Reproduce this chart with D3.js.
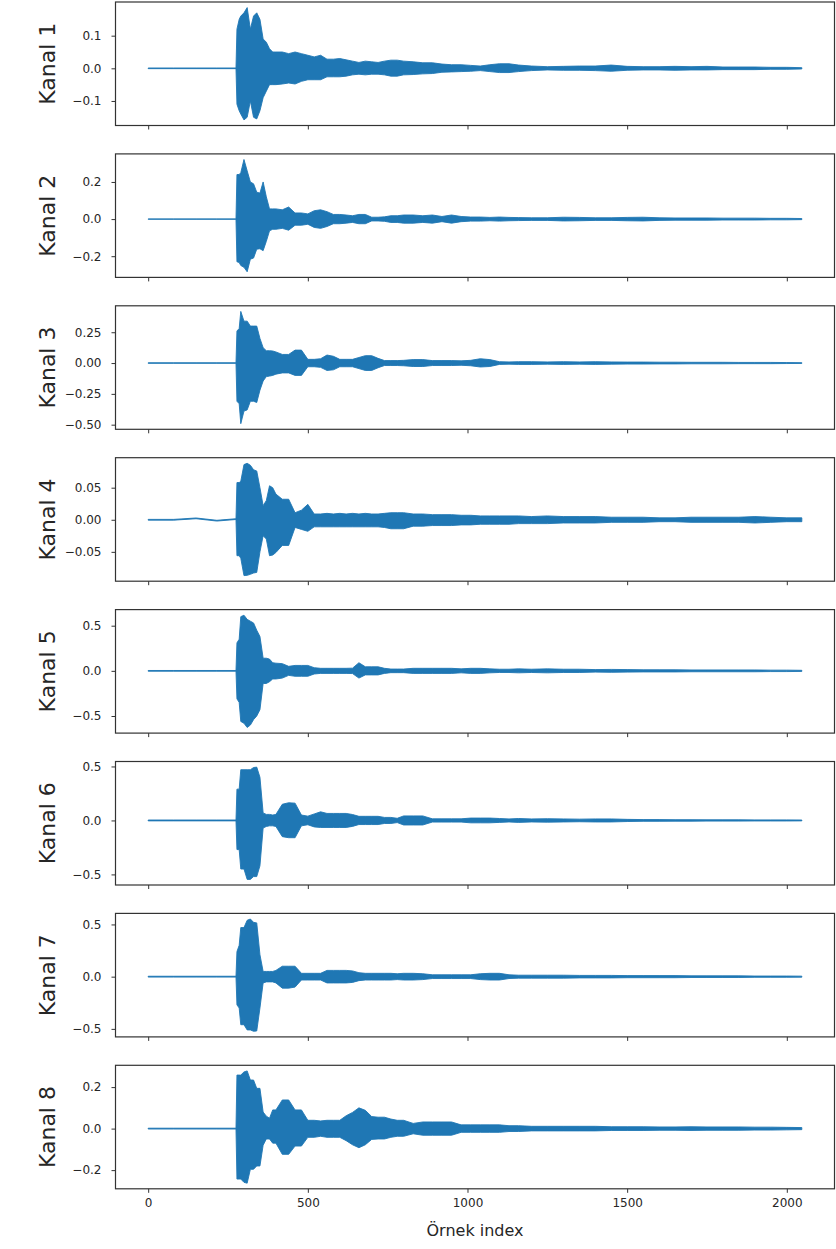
<!DOCTYPE html>
<html>
<head>
<meta charset="utf-8">
<script src="https://cdn.jsdelivr.net/npm/d3@7"></script>
<style>
  html, body { margin: 0; padding: 0; background: #fff; }
  svg { display: block; }
  text { font-family: "DejaVu Sans", sans-serif; fill: #262626; }
</style>
</head>
<body>
<svg id="chart" width="836" height="1249"></svg>
<script>
// ---- Data (envelope of each channel) ----
const sampleIdx = [0, 80, 150, 215, 275, 278, 285, 290, 300, 310, 320, 330, 340, 350, 360, 370, 380, 390, 400,
  420, 440, 460, 480, 500, 520, 540, 560, 580, 600, 620, 640, 660, 680, 700, 720, 740, 760, 780, 800,
  830, 860, 890, 920, 950, 980, 1010, 1040, 1070, 1100, 1130, 1160,
  1200, 1250, 1300, 1350, 1400, 1450, 1500, 1550, 1600, 1650, 1700, 1750, 1800, 1850, 1900, 1950, 2000, 2047];

const channelNames = ["Kanal 1", "Kanal 2", "Kanal 3", "Kanal 4", "Kanal 5", "Kanal 6", "Kanal 7", "Kanal 8"];

const kanal1Hi = [.001,.001,.001,.001,.001, .12,.15,.16,.17,.186,.12,.16,.17,.15,.09,.08,.06,.05,.05,
  .05,.045,.05,.045,.04,.035,.04,.028,.028,.03,.026,.022,.018,.022,.02,.018,.022,.025,.025,.022,
  .02,.017,.017,.013,.011,.011,.009,.007,.011,.014,.014,.01,
  .007,.005,.006,.007,.007,.01,.006,.005,.005,.006,.005,.006,.004,.004,.004,.003,.003,.002];
const kanal1Lo = [-.001,-.001,-.001,-.001,-.001, -.11,-.13,-.14,-.158,-.15,-.10,-.15,-.155,-.13,-.09,-.07,-.05,-.05,-.05,
  -.048,-.045,-.048,-.04,-.035,-.035,-.035,-.026,-.026,-.026,-.024,-.02,-.018,-.02,-.018,-.018,-.02,-.024,-.024,-.02,
  -.019,-.017,-.016,-.012,-.011,-.01,-.009,-.007,-.01,-.013,-.013,-.01,
  -.007,-.005,-.006,-.006,-.007,-.009,-.006,-.005,-.005,-.006,-.005,-.005,-.004,-.004,-.004,-.003,-.003,-.002];

const kanal2Hi = [.001,.001,.001,.001,.001, .24,.24,.25,.321,.26,.20,.19,.145,.14,.20,.12,.055,.055,.055,
  .05,.065,.033,.033,.028,.045,.05,.04,.025,.025,.022,.018,.025,.025,.01,.01,.012,.018,.018,.022,
  .022,.018,.022,.014,.022,.014,.011,.011,.009,.011,.009,.008,
  .007,.007,.01,.009,.007,.007,.009,.01,.007,.006,.006,.006,.005,.005,.005,.004,.004,.003];
const kanal2Lo = [-.001,-.001,-.001,-.001,-.001, -.23,-.234,-.25,-.26,-.284,-.216,-.21,-.162,-.16,-.17,-.12,-.063,-.055,-.055,
  -.05,-.06,-.033,-.033,-.028,-.045,-.05,-.04,-.025,-.025,-.022,-.018,-.025,-.025,-.01,-.01,-.012,-.018,-.018,-.022,
  -.022,-.018,-.022,-.014,-.022,-.014,-.011,-.011,-.009,-.011,-.009,-.008,
  -.007,-.007,-.01,-.009,-.007,-.007,-.009,-.01,-.007,-.006,-.006,-.006,-.005,-.005,-.005,-.004,-.004,-.003];

const kanal3Hi = [.002,.002,.002,.002,.002, .26,.28,.419,.34,.34,.30,.30,.30,.20,.125,.10,.10,.098,.09,
  .07,.07,.105,.105,.03,.03,.035,.065,.055,.03,.03,.03,.045,.06,.06,.038,.02,.02,.02,.022,
  .028,.028,.02,.02,.02,.018,.022,.035,.028,.011,.009,.011,
  .011,.009,.011,.009,.011,.009,.008,.008,.007,.007,.006,.006,.006,.005,.005,.005,.004,.003];
const kanal3Lo = [-.002,-.002,-.002,-.002,-.002, -.31,-.33,-.492,-.39,-.38,-.31,-.31,-.32,-.22,-.146,-.11,-.106,-.10,-.09,
  -.08,-.08,-.1,-.1,-.03,-.03,-.035,-.06,-.055,-.03,-.03,-.03,-.045,-.06,-.06,-.038,-.02,-.02,-.02,-.022,
  -.028,-.028,-.02,-.02,-.02,-.018,-.022,-.032,-.028,-.011,-.009,-.011,
  -.011,-.009,-.011,-.009,-.011,-.009,-.008,-.008,-.007,-.007,-.006,-.006,-.006,-.005,-.005,-.005,-.004,-.003];

const kanal4Hi = [.0006,.0006,.0028,-.0008,.0016, .058,.058,.06,.086,.088,.085,.078,.076,.05,.022,.03,.053,.05,.04,
  .032,.032,.011,.015,.024,.009,.009,.01,.009,.01,.009,.01,.009,.01,.009,.009,.01,.011,.011,.011,
  .009,.009,.008,.008,.008,.007,.007,.006,.006,.006,.006,.006,
  .005,.006,.005,.005,.005,.004,.004,.004,.003,.003,.004,.004,.004,.004,.005,.004,.003,.003];
const kanal4Lo = [-.0006,-.0006,.0016,-.002,.0004, -.056,-.056,-.06,-.087,-.0866,-.085,-.083,-.082,-.05,-.025,-.03,-.056,-.055,-.051,
  -.04,-.04,-.012,-.015,-.018,-.011,-.011,-.011,-.011,-.011,-.011,-.011,-.011,-.011,-.011,-.011,-.012,-.014,-.014,-.014,
  -.01,-.01,-.009,-.009,-.009,-.008,-.008,-.007,-.007,-.007,-.007,-.006,
  -.006,-.006,-.005,-.005,-.005,-.004,-.004,-.004,-.003,-.003,-.004,-.004,-.004,-.004,-.005,-.004,-.003,-.003];

const kanal5Hi = [.004,.004,.004,.004,.004, .31,.35,.60,.616,.57,.55,.53,.45,.38,.14,.14,.13,.09,.085,
  .08,.05,.06,.06,.06,.035,.028,.028,.028,.028,.028,.03,.09,.045,.045,.045,.028,.02,.02,.02,
  .028,.028,.028,.028,.028,.022,.028,.028,.022,.018,.018,.022,
  .018,.022,.018,.018,.014,.016,.014,.012,.012,.012,.01,.01,.01,.01,.01,.008,.008,.006];
const kanal5Lo = [-.004,-.004,-.004,-.004,-.004, -.31,-.35,-.56,-.58,-.627,-.60,-.54,-.50,-.43,-.14,-.14,-.12,-.09,-.09,
  -.08,-.05,-.06,-.06,-.06,-.035,-.028,-.028,-.028,-.028,-.028,-.03,-.08,-.045,-.045,-.045,-.028,-.02,-.02,-.02,
  -.028,-.028,-.028,-.028,-.028,-.022,-.028,-.028,-.022,-.018,-.018,-.022,
  -.018,-.022,-.018,-.018,-.014,-.016,-.014,-.012,-.012,-.012,-.01,-.01,-.01,-.01,-.01,-.008,-.008,-.006];

const kanal6Hi = [.004,.004,.004,.004,.004, .29,.29,.47,.47,.47,.47,.49,.494,.40,.07,.056,.056,.05,.056,
  .15,.164,.16,.05,.04,.06,.08,.065,.065,.065,.065,.055,.038,.038,.038,.038,.028,.028,.02,.042,
  .042,.042,.015,.015,.015,.015,.022,.022,.022,.018,.014,.018,
  .014,.016,.014,.012,.014,.014,.01,.008,.008,.007,.007,.006,.006,.006,.005,.005,.005,.004];
const kanal6Lo = [-.004,-.004,-.004,-.004,-.004, -.27,-.27,-.45,-.45,-.546,-.546,-.52,-.52,-.42,-.07,-.056,-.05,-.05,-.056,
  -.15,-.16,-.16,-.05,-.04,-.06,-.065,-.065,-.065,-.065,-.065,-.055,-.038,-.038,-.038,-.038,-.028,-.028,-.02,-.042,
  -.042,-.042,-.015,-.015,-.015,-.015,-.022,-.022,-.022,-.018,-.014,-.018,
  -.014,-.016,-.014,-.012,-.014,-.014,-.01,-.008,-.008,-.007,-.007,-.006,-.006,-.006,-.005,-.005,-.005,-.004];

const kanal7Hi = [.004,.004,.004,.004,.004, .24,.30,.47,.47,.54,.552,.52,.515,.21,.05,.05,.05,.05,.06,
  .10,.10,.10,.032,.032,.032,.032,.06,.06,.06,.06,.055,.038,.032,.032,.032,.032,.032,.028,.032,
  .032,.028,.018,.018,.018,.018,.018,.028,.032,.032,.018,.014,
  .014,.014,.014,.012,.012,.012,.01,.01,.01,.01,.008,.008,.008,.008,.006,.006,.006,.005];
const kanal7Lo = [-.004,-.004,-.004,-.004,-.004, -.27,-.30,-.46,-.46,-.51,-.51,-.523,-.52,-.30,-.06,-.05,-.05,-.05,-.06,
  -.11,-.11,-.10,-.032,-.032,-.032,-.032,-.06,-.06,-.06,-.06,-.055,-.038,-.032,-.032,-.032,-.032,-.032,-.028,-.032,
  -.032,-.028,-.018,-.018,-.018,-.018,-.018,-.028,-.032,-.032,-.018,-.014,
  -.014,-.014,-.014,-.012,-.012,-.012,-.01,-.01,-.01,-.01,-.008,-.008,-.008,-.008,-.006,-.006,-.006,-.005];

const kanal8Hi = [.002,.002,.002,.002,.002, .258,.258,.258,.273,.278,.234,.234,.194,.194,.08,.06,.05,.09,.09,
  .138,.138,.09,.09,.04,.04,.037,.04,.04,.04,.062,.078,.10,.088,.058,.055,.055,.046,.04,.04,
  .025,.032,.032,.032,.032,.018,.018,.018,.018,.018,.014,.014,
  .011,.011,.011,.011,.011,.009,.009,.009,.008,.008,.009,.008,.008,.008,.007,.007,.006,.005];
const kanal8Lo = [-.002,-.002,-.002,-.002,-.002, -.243,-.243,-.243,-.259,-.263,-.196,-.196,-.18,-.18,-.08,-.05,-.05,-.07,-.07,
  -.124,-.124,-.084,-.084,-.042,-.042,-.037,-.042,-.042,-.042,-.058,-.078,-.092,-.078,-.052,-.05,-.05,-.042,-.037,-.037,
  -.025,-.032,-.032,-.032,-.032,-.018,-.018,-.018,-.018,-.018,-.014,-.014,
  -.011,-.011,-.011,-.011,-.011,-.009,-.009,-.009,-.008,-.008,-.009,-.008,-.008,-.008,-.007,-.007,-.006,-.005];

const channelHi = [kanal1Hi, kanal2Hi, kanal3Hi, kanal4Hi, kanal5Hi, kanal6Hi, kanal7Hi, kanal8Hi];
const channelLo = [kanal1Lo, kanal2Lo, kanal3Lo, kanal4Lo, kanal5Lo, kanal6Lo, kanal7Lo, kanal8Lo];

const yTicks = [
  [-0.1, 0, 0.1],
  [-0.2, 0, 0.2],
  [-0.5, -0.25, 0, 0.25],
  [-0.05, 0, 0.05],
  [-0.5, 0, 0.5],
  [-0.5, 0, 0.5],
  [-0.5, 0, 0.5],
  [-0.2, 0, 0.2]
];
const yTickDecimals = [1, 1, 2, 2, 1, 1, 1, 1];
const xTicks = [0, 500, 1000, 1500, 2000];
const xLabel = "Örnek index";
const nSamples = 2048;

// ---- Layout ----
const svg = d3.select("#chart");
const left = 115.5, right = 834.5;
const top0 = 2, step = 151.9, panelH = 123.5;
const color = "#1f77b4";

const xMax = nSamples - 1;
const x = d3.scaleLinear()
  .domain([-0.05 * xMax, xMax * 1.05])
  .range([left, right]);

const fmtMinus = s => s.replace("-", "\u2212");

channelNames.forEach((name, i) => {
  const top = top0 + i * step;
  const hi = channelHi[i], lo = channelLo[i];
  const ymax = d3.max(hi), ymin = d3.min(lo);
  const pad = 0.05 * (ymax - ymin);
  const y = d3.scaleLinear().domain([ymin - pad, ymax + pad]).range([top + panelH, top]);

  const g = svg.append("g");

  const pts = sampleIdx.map((s, k) => ({ s, hi: hi[k], lo: lo[k] }));
  const area = d3.area()
    .x(d => x(d.s))
    .y0(d => y(d.lo))
    .y1(d => y(d.hi))
    .curve(d3.curveLinear);

  g.append("path")
    .datum(pts)
    .attr("d", area)
    .attr("fill", color)
    .attr("stroke", color)
    .attr("stroke-width", 0.9)
    .attr("stroke-linejoin", "round");

  // y axis
  const yAxis = d3.axisLeft(y)
    .tickValues(yTicks[i])
    .tickSize(4)
    .tickPadding(10)
    .tickFormat(v => fmtMinus(d3.format("." + yTickDecimals[i] + "f")(v)));
  const ya = g.append("g").attr("transform", `translate(${left},0)`).call(yAxis);
  ya.select(".domain").remove();
  ya.selectAll("line").attr("stroke", "#333").attr("stroke-width", 1);
  ya.selectAll("text").attr("font-size", 12).attr("fill", "#262626")
    .attr("font-family", "DejaVu Sans, sans-serif");

  // x axis
  const xAxis = d3.axisBottom(x)
    .tickValues(xTicks)
    .tickSize(4)
    .tickPadding(6)
    .tickFormat(i === channelNames.length - 1 ? d3.format("d") : () => "");
  const xa = g.append("g").attr("transform", `translate(0,${top + panelH})`).call(xAxis);
  xa.select(".domain").remove();
  xa.selectAll("line").attr("stroke", "#333").attr("stroke-width", 1);
  xa.selectAll("text").attr("font-size", 12).attr("fill", "#262626")
    .attr("font-family", "DejaVu Sans, sans-serif");

  // frame
  g.append("rect")
    .attr("x", left).attr("y", top)
    .attr("width", right - left).attr("height", panelH)
    .attr("fill", "none").attr("stroke", "#333").attr("stroke-width", 1.2);

  // y label
  g.append("text")
    .attr("transform", `translate(55,${top + panelH / 2}) rotate(-90)`)
    .attr("text-anchor", "middle")
    .attr("font-size", 22)
    .text(name);
});

svg.append("text")
  .attr("x", (left + right) / 2)
  .attr("y", 1236)
  .attr("text-anchor", "middle")
  .attr("font-size", 16)
  .text(xLabel);
</script>
</body>
</html>
